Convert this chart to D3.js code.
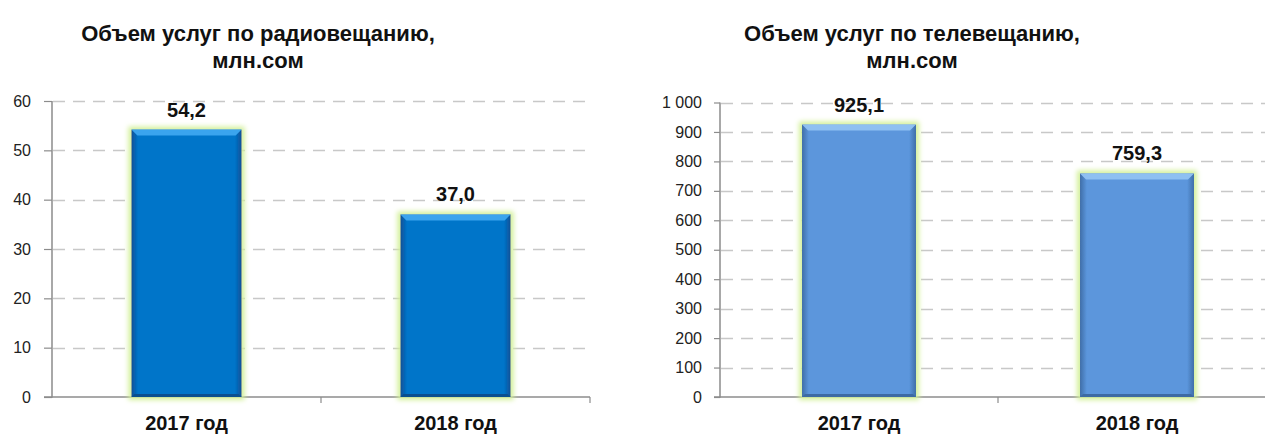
<!DOCTYPE html>
<html><head><meta charset="utf-8">
<script src="https://cdn.jsdelivr.net/npm/d3@7"></script>
<style>
html,body{margin:0;padding:0;background:#fff;}
svg text{font-family:"Liberation Sans",Arial,sans-serif;}
</style></head>
<body>
<svg id="chart" width="1265" height="434"></svg>
<script>
// ---- data ----
const categories = ["2017 год", "2018 год"];
const radioTitle = ["Объем услуг по радиовещанию,", "млн.сом"];
const radioValues = [54.2, 37.0];
const radioTicks = [0, 10, 20, 30, 40, 50, 60];
const tvTitle = ["Объем услуг по телевещанию,", "млн.сом"];
const tvValues = [925.1, 759.3];
const tvTicks = [0, 100, 200, 300, 400, 500, 600, 700, 800, 900, 1000];

const svg = d3.select("#chart");
const defs = svg.append("defs");

// glow filter
const glow = defs.append("filter").attr("id","glow").attr("x","-30%").attr("y","-30%").attr("width","160%").attr("height","160%");
glow.append("feMorphology").attr("in","SourceAlpha").attr("operator","dilate").attr("radius",3).attr("result","d");
glow.append("feGaussianBlur").attr("in","d").attr("stdDeviation",2.5).attr("result","b");
glow.append("feFlood").attr("flood-color","#d3f09a").attr("result","c");
glow.append("feComposite").attr("in","c").attr("in2","b").attr("operator","in").attr("result","g");
const mg = glow.append("feMerge");
mg.append("feMergeNode").attr("in","g");
mg.append("feMergeNode").attr("in","SourceGraphic");

function gradient(id, edge, mid){
  const g = defs.append("linearGradient").attr("id",id).attr("x1","0").attr("x2","1").attr("y1","0").attr("y2","0");
  g.append("stop").attr("offset","0").attr("stop-color",edge);
  g.append("stop").attr("offset","0.06").attr("stop-color",mid);
  g.append("stop").attr("offset","0.94").attr("stop-color",mid);
  g.append("stop").attr("offset","1").attr("stop-color",edge);
}
gradient("gRadio","#0a4f95","#0474c9");
gradient("gTv","#3f6ea8","#5b96dc");

function fmt(v){
  return d3.format(",")(v).replace(/,/g," ");
}

function drawChart(o){
  const g = svg.append("g");
  const y = d3.scaleLinear().domain([0, d3.max(o.ticks)]).range([o.y0, o.y1]);
  const x = d3.scaleBand().domain(categories).range([o.x0, o.x1]).padding(0);
  const bw = x.bandwidth()*0.41;

  // title
  const t = g.append("text").attr("text-anchor","middle").attr("font-weight","bold")
    .style("font-size","22px").attr("fill","#111");
  o.title.forEach((s,i)=>t.append("tspan").attr("x",o.tx).attr("y",41+i*27).text(s));

  // gridlines
  g.append("g").selectAll("line").data(o.ticks.filter(d=>d>0)).join("line")
    .attr("x1",o.x0+1).attr("x2",o.x1).attr("y1",d=>Math.round(y(d))+0.5).attr("y2",d=>Math.round(y(d))+0.5)
    .attr("stroke","#c8c8c8").attr("stroke-width",1.3).attr("stroke-dasharray","12,8");

  // y axis
  const ya = g.append("g").attr("transform",`translate(${o.x0},0)`)
    .call(d3.axisLeft(y).tickValues(o.ticks).tickFormat(fmt).tickSize(o.tick).tickPadding(o.pad));
  ya.select(".domain").attr("stroke","#8c8c8c").attr("stroke-width",1.5).attr("d",`M-${o.tick},${o.y0}H0V${o.y1}`);
  ya.selectAll(".tick line").attr("stroke","#8c8c8c").attr("stroke-width",1.2);
  ya.selectAll(".tick text").style("font-size","16px").attr("fill","#222").attr("font-family","Liberation Sans, Arial, sans-serif");

  // x axis
  const xa = g.append("g").attr("transform",`translate(0,${o.y0})`)
    .call(d3.axisBottom(x).tickSize(0).tickPadding(26));
  xa.select(".domain").attr("stroke","#8c8c8c").attr("stroke-width",1.5).attr("d",`M${o.x0},0H${o.x1}`);
  xa.selectAll(".tick text").style("font-size","20px").attr("font-weight","bold").attr("fill","#111")
    .attr("font-family","Liberation Sans, Arial, sans-serif").attr("dy","0.35em");
  g.append("g").selectAll("line").data(categories.slice(1).concat(["__end"])).join("line")
    .attr("x1",d=>d==="__end"?o.x1:x(d)).attr("x2",d=>d==="__end"?o.x1:x(d))
    .attr("y1",o.y0).attr("y2",o.y0+6).attr("stroke","#8c8c8c").attr("stroke-width",1.2);

  // bars
  const bars = g.append("g").selectAll("g").data(o.values).join("g");
  bars.append("rect")
    .attr("x",(d,i)=>x(categories[i])+x.bandwidth()/2-bw/2)
    .attr("y",d=>y(d)).attr("width",bw).attr("height",d=>o.y0-y(d))
    .attr("fill",`url(#${o.grad})`).attr("filter","url(#glow)");
  // top bevel
  bars.append("path")
    .attr("d",(d,i)=>{
      const l = x(categories[i])+x.bandwidth()/2-bw/2, r = l+bw, tp = y(d), h=6;
      return `M${l},${tp}H${r}L${r-h},${tp+h}H${l+h}Z`;
    }).attr("fill",o.bevel);
  // bottom darker bevel
  bars.append("path")
    .attr("d",(d,i)=>{
      const l = x(categories[i])+x.bandwidth()/2-bw/2, r = l+bw, b = o.y0, h=3;
      return `M${l},${b}H${r}L${r-h},${b-h}H${l+h}Z`;
    }).attr("fill",o.bottom);

  // value labels
  g.append("g").selectAll("text").data(o.values).join("text")
    .attr("x",(d,i)=>x(categories[i])+x.bandwidth()/2)
    .attr("y",d=>y(d)-13)
    .attr("text-anchor","middle").attr("font-weight","bold").style("font-size","20px").attr("fill","#111")
    .text(d=>d3.format(".1f")(d).replace(".",","));
}

drawChart({title:radioTitle, values:radioValues, ticks:radioTicks, x0:52, x1:590, y0:397, y1:101,
  tx:258, tick:8, pad:13, grad:"gRadio", bevel:"#3aa4ee", bottom:"#0a4f8f"});
drawChart({title:tvTitle, values:tvValues, ticks:tvTicks, x0:720, x1:1276, y0:397, y1:102.5,
  tx:912, tick:6, pad:12, grad:"gTv", bevel:"#8ec0f2", bottom:"#3d6aa3"});
</script>
</body></html>
